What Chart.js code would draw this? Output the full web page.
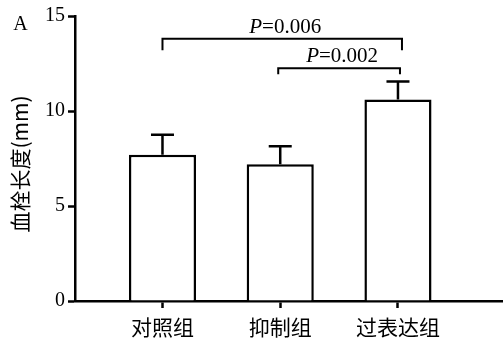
<!DOCTYPE html>
<html>
<head>
<meta charset="utf-8">
<script src="https://cdn.jsdelivr.net/npm/chart.js@4"></script>
<style>
  html, body { margin: 0; padding: 0; background: #fff; }
  #wrap { width: 503px; height: 341px; position: relative; }
</style>
</head>
<body>
<div id="wrap"><canvas id="c"></canvas></div>
<script>
// Thrombus length per group (mean ± SD, mm)
const groups = ['对照组', '抑制组', '过表达组'];
const means = [7.7, 7.2, 10.6];
const sds = [1.05, 0.95, 0.95];
const yTicks = [0, 5, 10, 15];

// Pairwise comparisons (group indices) and their P values
const pairs = [[0, 2], [1, 2]];
const pValues = ['0.006', '0.002'];

const SERIF = '"Liberation Serif", "Times New Roman", serif';
const CJK = '"Noto Sans CJK SC", sans-serif';

// Draws SD whiskers, significance brackets, panel letter and the y title
const annotations = {
  id: 'annotations',
  afterDatasetsDraw(chart, args, opts) {
    const { ctx } = chart;
    const xs = chart.scales.x, ys = chart.scales.y;
    ctx.save();
    ctx.strokeStyle = '#000';
    ctx.fillStyle = '#000';
    ctx.lineCap = 'butt';

    // whiskers
    ctx.lineWidth = 2.5;
    means.forEach((m, i) => {
      const x = xs.getPixelForValue(i);
      const y0 = ys.getPixelForValue(m);
      const y1 = ys.getPixelForValue(m + sds[i]);
      ctx.beginPath();
      ctx.moveTo(x, y0);
      ctx.lineTo(x, y1);
      ctx.moveTo(x - opts.capHalf, y1);
      ctx.lineTo(x + opts.capHalf, y1);
      ctx.stroke();
    });

    // brackets
    ctx.lineWidth = 2;
    pairs.forEach((p, k) => {
      const b = opts.brackets[k];
      const xa = xs.getPixelForValue(p[0]) + b.dxA;
      const xb = xs.getPixelForValue(p[1]) + b.dxB;
      const yl = ys.getPixelForValue(b.level);
      ctx.beginPath();
      ctx.moveTo(xa, yl + b.drop);
      ctx.lineTo(xa, yl);
      ctx.lineTo(xb, yl);
      ctx.lineTo(xb, yl + b.drop);
      ctx.stroke();

      const pPart = 'P', rest = '=' + pValues[k];
      ctx.font = 'italic 21px ' + SERIF;
      const wP = ctx.measureText(pPart).width;
      ctx.font = '21px ' + SERIF;
      const wR = ctx.measureText(rest).width;
      const cx = (xa + xb) / 2 + 3;
      const left = cx - (wP + wR) / 2;
      const base = yl - 6;
      ctx.textBaseline = 'alphabetic';
      ctx.textAlign = 'left';
      ctx.font = 'italic 21px ' + SERIF;
      ctx.fillText(pPart, left, base);
      ctx.font = '21px ' + SERIF;
      ctx.fillText(rest, left + wP, base);
    });

    // panel letter
    ctx.font = '20px ' + SERIF;
    ctx.textAlign = 'center';
    ctx.textBaseline = 'middle';
    ctx.fillText('A', 20.5, 25);

    // y-axis title
    ctx.translate(20.5, 164);
    ctx.rotate(-Math.PI / 2);
    ctx.font = '21px ' + CJK;
    ctx.fillText('血栓长度(mm)', 0, 0);
    ctx.restore();
  }
};

new Chart(document.getElementById('c'), {
  type: 'bar',
  data: {
    datasets: [{
      data: means.map((m, i) => ({ x: i, y: m })),
      backgroundColor: '#ffffff',
      borderColor: '#000000',
      borderWidth: 2.5,
      barPercentage: 0.57,
      categoryPercentage: 1
    }]
  },
  options: {
    responsive: true,
    maintainAspectRatio: false,
    animation: false,
    layout: { padding: { top: 16, right: 0, left: 0, bottom: 0 } },
    plugins: {
      legend: { display: false },
      tooltip: { enabled: false },
      annotations: {
        capHalf: 11.5,
        brackets: [
          { level: 13.8, drop: 11.5, dxA: 0, dxB: 4 },
          { level: 12.25, drop: 6, dxA: -2, dxB: 2 }
        ]
      }
    },
    scales: {
      x: {
        type: 'linear',
        offset: false,
        min: -0.743,
        max: 2.892,
        afterBuildTicks: s => { s.ticks = groups.map((_, i) => ({ value: i })); },
        afterFit: s => { s.height = 40; },
        grid: { offset: false, drawOnChartArea: false, tickLength: 7, tickWidth: 2.5, tickColor: '#000' },
        border: { color: '#000', width: 2.5 },
        ticks: {
          autoSkip: false, maxRotation: 0, padding: 6, color: '#000',
          font: { family: CJK, size: 21 },
          callback: v => groups[v]
        }
      },
      y: {
        min: 0,
        max: 15,
        afterBuildTicks: s => { s.ticks = yTicks.map(v => ({ value: v })); },
        afterFit: s => { s.width = 75; },
        grid: { drawOnChartArea: false, tickLength: 7, tickWidth: 2.5, tickColor: '#000' },
        border: { color: '#000', width: 2.5 },
        ticks: { padding: 3, color: '#000', font: { family: SERIF, size: 20 } }
      }
    }
  },
  plugins: [annotations]
});
</script>
</body>
</html>
